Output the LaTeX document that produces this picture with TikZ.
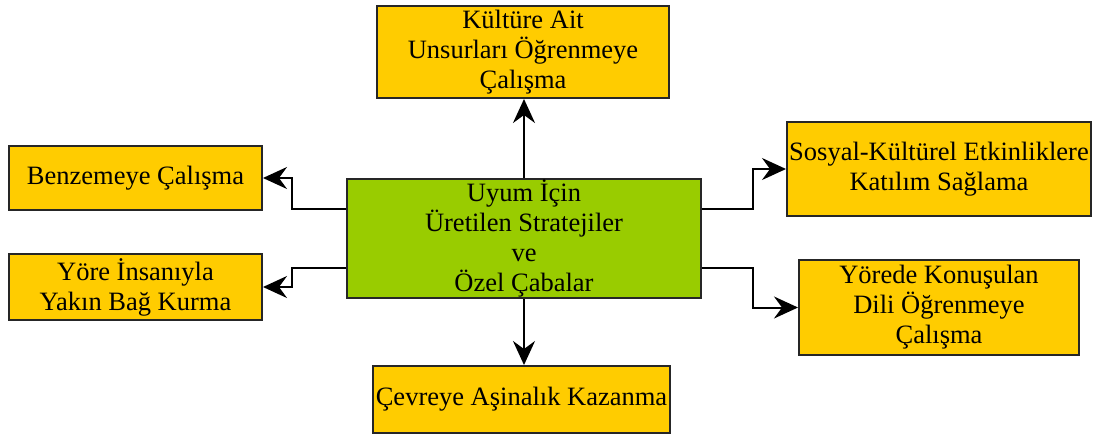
\documentclass[tikz,border=0pt]{standalone}
\usepackage{fontspec}
\setmainfont{Liberation Serif}
\usetikzlibrary{arrows.meta}
\definecolor{boxyellow}{HTML}{FFCC00}
\definecolor{boxgreen}{HTML}{99CC00}

\begin{document}
\begin{tikzpicture}[x=1pt,y=-1pt,line width=2pt,
  my box/.style={draw=black!85,fill=boxyellow,align=center,inner sep=0pt,
    font=\fontsize{26.5}{30}\selectfont},
  my arrow/.style={-{Stealth[length=24pt,width=22pt,inset=8pt]}}]
  \useasboundingbox (0,0) rectangle (1094,437);
  % NODES
  \node[my box,fill=boxgreen,minimum width=354pt,minimum height=119pt] (centre) at (524,238.5)
    {Uyum İçin\\Üretilen Stratejiler\\ve\\Özel Çabalar};
  \node[my box,minimum width=292pt,minimum height=92pt] (kultur) at (523,52)
    {Kültüre Ait\\Unsurları Öğrenmeye\\Çalışma};
  \node[my box,minimum width=253pt,minimum height=64pt] (benzeme) at (135.5,178)
    {Benzemeye Çalışma};
  \node[my box,minimum width=253pt,minimum height=66pt] (yore) at (135.5,287)
    {Yöre İnsanıyla\\Yakın Bağ Kurma};
  \node[my box,minimum width=304pt,minimum height=94pt] (sosyal) at (939,169)
    {Sosyal-Kültürel Etkinliklere\\Katılım Sağlama};
  \node[my box,minimum width=280pt,minimum height=95pt] (dil) at (939,307.5)
    {Yörede Konuşulan\\Dili Öğrenmeye\\Çalışma};
  \node[my box,minimum width=297pt,minimum height=67pt] (cevre) at (521.5,399.5)
    {Çevreye Aşinalık Kazanma};
  % PATHS
  \draw[my arrow] (centre.north) -- (centre.north |- kultur.south);
  \draw[my arrow] (centre.south) -- (centre.south |- cevre.north);
  \draw[my arrow] ([yshift=29.5pt]centre.west) -- ++(-54,0) |- (benzeme.east);
  \draw[my arrow] ([yshift=-29.5pt]centre.west) -- ++(-54,0) |- (yore.east);
  \draw[my arrow] ([yshift=29.5pt]centre.east) -- ++(51,0) |- (sosyal.west);
  \draw[my arrow] ([yshift=-29.5pt]centre.east) -- ++(51,0) |- (dil.west);
\end{tikzpicture}
\end{document}
